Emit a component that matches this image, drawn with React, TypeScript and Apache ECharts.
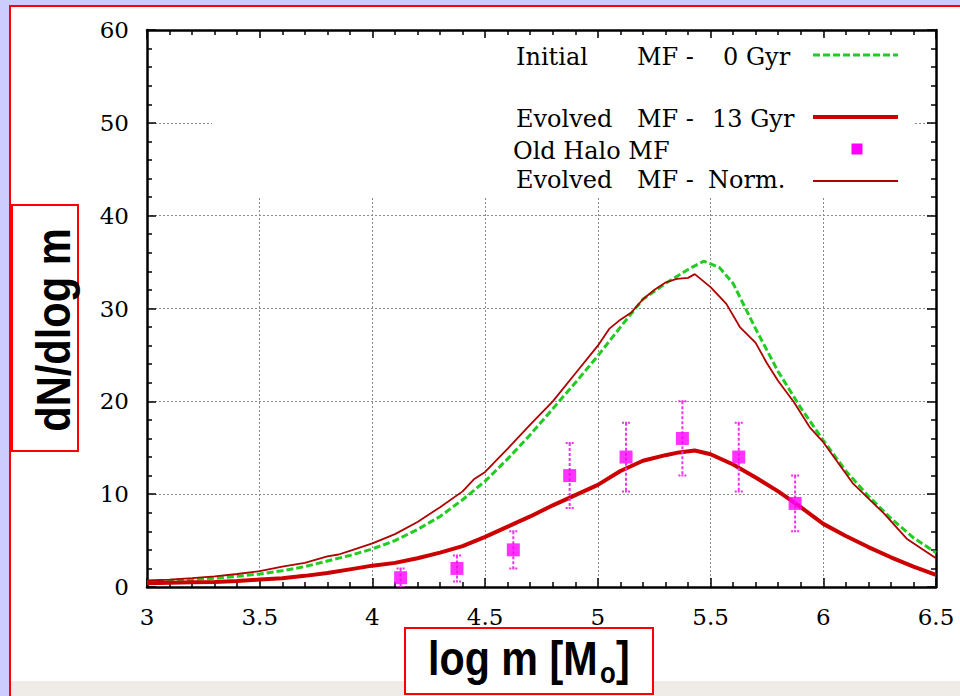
import React, { useEffect, useRef } from "react";
import * as echarts from "echarts";

// ---- data ----
const initX = [3.0, 3.1, 3.2, 3.3, 3.4, 3.5, 3.6, 3.7, 3.8, 3.9, 4.0, 4.1, 4.2, 4.3, 4.4, 4.5, 4.6, 4.7, 4.8, 4.9, 5.0, 5.1, 5.2, 5.3, 5.4, 5.47, 5.54, 5.6, 5.7, 5.8, 5.9, 6.0, 6.1, 6.2, 6.3, 6.4, 6.5];
const initY = [0.6, 0.7, 0.8, 0.95, 1.15, 1.4, 1.75, 2.2, 2.8, 3.4, 4.1, 5.0, 6.2, 7.6, 9.4, 11.4, 13.8, 16.4, 19.2, 22.0, 24.9, 28.0, 31.0, 32.7, 34.2, 35.1, 34.4, 32.7, 27.8, 23.2, 19.3, 15.8, 12.5, 9.8, 7.4, 5.3, 3.7];

const normX = [3.0, 3.1, 3.2, 3.3, 3.4, 3.5, 3.6, 3.7, 3.8, 3.85, 3.9, 4.0, 4.1, 4.2, 4.3, 4.4, 4.45, 4.5, 4.6, 4.7, 4.8, 4.9, 5.0, 5.05, 5.1, 5.15, 5.2, 5.25, 5.3, 5.35, 5.4, 5.43, 5.5, 5.57, 5.63, 5.7, 5.75, 5.8, 5.87, 5.94, 6.0, 6.13, 6.27, 6.37, 6.5];
const normY = [0.7, 0.8, 0.95, 1.15, 1.4, 1.7, 2.2, 2.6, 3.3, 3.5, 3.9, 4.7, 5.7, 7.0, 8.6, 10.3, 11.6, 12.4, 14.9, 17.5, 20.0, 23.0, 26.0, 27.8, 28.8, 29.6, 31.0, 32.0, 32.8, 33.2, 33.3, 33.7, 32.3, 30.5, 28.0, 26.3, 24.1, 22.2, 19.9, 17.2, 15.6, 11.2, 7.9, 5.2, 3.1];

const evoX = [3.0, 3.1, 3.2, 3.3, 3.4, 3.5, 3.6, 3.7, 3.8, 3.9, 4.0, 4.1, 4.2, 4.3, 4.4, 4.5, 4.6, 4.7, 4.8, 4.9, 5.0, 5.1, 5.2, 5.3, 5.36, 5.43, 5.5, 5.6, 5.7, 5.8, 5.9, 6.0, 6.1, 6.2, 6.3, 6.4, 6.5];
const evoY = [0.4, 0.45, 0.5, 0.55, 0.65, 0.8, 0.95, 1.2, 1.5, 1.9, 2.3, 2.6, 3.1, 3.7, 4.4, 5.4, 6.5, 7.6, 8.8, 9.9, 11.0, 12.5, 13.6, 14.2, 14.5, 14.7, 14.3, 13.2, 11.8, 10.3, 8.6, 6.8, 5.5, 4.3, 3.2, 2.2, 1.3];

const haloX = [4.125, 4.375, 4.625, 4.875, 5.125, 5.375, 5.625, 5.875];
const haloY = [1, 2, 4, 12, 14, 16, 14, 9];
const haloErr = [1, 1.4, 2, 3.5, 3.7, 4, 3.7, 3];

const xTickLabels = ["3", "3.5", "4", "4.5", "5", "5.5", "6", "6.5"];
const yTickLabels = ["0", "10", "20", "30", "40", "50", "60"];

const pairs = (xs: number[], ys: number[]) => xs.map((x, i) => [x, ys[i]]);

const SERIF = "'DejaVu Serif', serif";
const SANS = "'Liberation Sans', Arial, sans-serif";

function txt(text: string, x: number, y: number, extra: any = {}, styleExtra: any = {}) {
  return {
    type: "text",
    x,
    y,
    z: 20,
    silent: true,
    ...extra,
    style: {
      text,
      fill: "#000",
      fontFamily: SERIF,
      fontSize: 24,
      align: "left",
      textAlign: "left",
      verticalAlign: "middle",
      textVerticalAlign: "middle",
      ...styleExtra,
    },
  };
}

export default function App() {
  const ref = useRef<HTMLDivElement>(null);

  useEffect(() => {
    const chart = echarts.init(ref.current!, null, { renderer: "svg" });

    const tickCommon = {
      axisLine: { show: true, onZero: false, lineStyle: { color: "#000", width: 2.5 } },
      axisTick: { show: true, inside: true, length: 9, lineStyle: { color: "#000", width: 1.5 } },
      minorTick: { show: true, splitNumber: 5, length: 5, lineStyle: { color: "#000", width: 1.5 } },
    };
    const gridLine = { show: true, lineStyle: { color: "#8a8a8a", width: 1, type: [2, 2] } };

    const xLabel = {
      show: true,
      color: "#000",
      fontFamily: SERIF,
      fontSize: 23,
      margin: 18,
      formatter: (v: number) => xTickLabels[Math.round((v - 3) / 0.5)] ?? String(v),
    };
    const yLabel = {
      show: true,
      color: "#000",
      fontFamily: SERIF,
      fontSize: 23,
      margin: 18,
      formatter: (v: number) => yTickLabels[Math.round(v / 10)] ?? String(v),
    };

    const option: any = {
      animation: false,
      backgroundColor: "#ccccff",
      textStyle: { fontFamily: SERIF, color: "#000" },
      grid: { left: 147, top: 30, right: 24, bottom: 109, containLabel: false },
      xAxis: [
        {
          type: "value",
          min: 3,
          max: 6.5,
          interval: 0.5,
          position: "bottom",
          ...tickCommon,
          splitLine: gridLine,
          axisLabel: xLabel,
        },
        {
          type: "value",
          min: 3,
          max: 6.5,
          interval: 0.5,
          position: "top",
          ...tickCommon,
          splitLine: { show: false },
          axisLabel: { show: false },
        },
      ],
      yAxis: [
        {
          type: "value",
          min: 0,
          max: 60,
          interval: 10,
          position: "left",
          ...tickCommon,
          splitLine: gridLine,
          axisLabel: yLabel,
        },
        {
          type: "value",
          min: 0,
          max: 60,
          interval: 10,
          position: "right",
          ...tickCommon,
          splitLine: { show: false },
          axisLabel: { show: false },
        },
      ],
      series: [
        {
          name: "Initial MF - 0 Gyr",
          type: "line",
          data: pairs(initX, initY),
          symbol: "none",
          z: 3,
          lineStyle: { color: "#22cc22", width: 3, type: [7, 3] },
        },
        {
          name: "Evolved MF - Norm.",
          type: "line",
          data: pairs(normX, normY),
          symbol: "none",
          z: 4,
          lineStyle: { color: "#b00000", width: 1.8 },
        },
        {
          name: "Evolved MF - 13 Gyr",
          type: "line",
          data: pairs(evoX, evoY),
          symbol: "none",
          z: 4,
          lineStyle: { color: "#cc0000", width: 4 },
        },
        {
          name: "Old Halo MF errors",
          type: "custom",
          z: 5,
          clip: true,
          data: haloX.map((x, i) => [x, haloY[i], haloErr[i]]),
          encode: { x: 0, y: 1 },
          renderItem: (params: any, api: any) => {
            const x = api.value(0);
            const y = api.value(1);
            const e = api.value(2);
            const top = api.coord([x, y + e]);
            const bot = api.coord([x, Math.max(0, y - e)]);
            const cap = 4;
            const c = "#ee33ee";
            return {
              type: "group",
              children: [
                {
                  type: "line",
                  shape: { x1: top[0], y1: top[1], x2: bot[0], y2: bot[1] },
                  style: { stroke: c, lineWidth: 2, lineDash: [3, 2] },
                },
                {
                  type: "line",
                  shape: { x1: top[0] - cap, y1: top[1], x2: top[0] + cap, y2: top[1] },
                  style: { stroke: c, lineWidth: 2, lineDash: [2, 1] },
                },
                {
                  type: "line",
                  shape: { x1: bot[0] - cap, y1: bot[1], x2: bot[0] + cap, y2: bot[1] },
                  style: { stroke: c, lineWidth: 2, lineDash: [2, 1] },
                },
              ],
            };
          },
        },
        {
          name: "Old Halo MF",
          type: "scatter",
          data: pairs(haloX, haloY),
          symbol: "rect",
          symbolSize: 13,
          z: 6,
          itemStyle: { color: "#ff00ff" },
        },
      ],
      graphic: [
        // page panels
        { type: "rect", z: -10, silent: true, shape: { x: 9, y: 5, width: 960, height: 700 }, style: { fill: "#ff0000" } },
        { type: "rect", z: -9, silent: true, shape: { x: 11, y: 7, width: 960, height: 674 }, style: { fill: "#ffffff" } },
        { type: "rect", z: -9, silent: true, shape: { x: 11, y: 681, width: 960, height: 20 }, style: { fill: "#efebe7" } },
        // legend background
        { type: "rect", z: 1, silent: true, shape: { x: 212, y: 38, width: 703, height: 159 }, style: { fill: "#ffffff" } },
        // legend texts
        txt("Initial", 516, 57),
        txt("MF -", 637, 57),
        txt("0 Gyr", 723, 57),
        txt("Evolved", 516, 119),
        txt("MF -", 637, 119),
        txt("13 Gyr", 712, 119),
        txt("Old Halo MF", 513, 151),
        txt("Evolved", 516, 180),
        txt("MF -", 637, 180),
        txt("Norm.", 708, 180),
        // legend samples
        { type: "line", z: 20, silent: true, shape: { x1: 813, y1: 55, x2: 898, y2: 55 }, style: { stroke: "#22cc22", lineWidth: 3, lineDash: [7, 3] } },
        { type: "line", z: 20, silent: true, shape: { x1: 813, y1: 117, x2: 898, y2: 117 }, style: { stroke: "#cc0000", lineWidth: 4 } },
        { type: "rect", z: 20, silent: true, shape: { x: 851.5, y: 143.5, width: 11, height: 11 }, style: { fill: "#ff00ff" } },
        { type: "line", z: 20, silent: true, shape: { x1: 813, y1: 181, x2: 898, y2: 181 }, style: { stroke: "#b00000", lineWidth: 1.8 } },
        // y axis title box
        { type: "rect", z: 15, silent: true, shape: { x: 12, y: 205, width: 66, height: 246 }, style: { fill: "#ffffff", stroke: "#ff0000", lineWidth: 2 } },
        txt("dN/dlog m", 53, 330, { rotation: Math.PI / 2, scaleX: 0.85 }, {
          fontFamily: SANS, fontWeight: "bold", fontSize: 49, align: "center", textAlign: "center",
        }),
        // x axis title box
        { type: "rect", z: 15, silent: true, shape: { x: 405, y: 628, width: 248, height: 66 }, style: { fill: "#ffffff", stroke: "#ff0000", lineWidth: 2 } },
        txt("log m [M", 428, 658, { scaleX: 0.86 }, { fontFamily: SANS, fontWeight: "bold", fontSize: 48 }),
        txt("o", 600, 673, { scaleX: 0.86 }, { fontFamily: SANS, fontWeight: "bold", fontSize: 30 }),
        txt("]", 616, 658, { scaleX: 0.86 }, { fontFamily: SANS, fontWeight: "bold", fontSize: 48 }),
      ],
    };

    chart.setOption(option);
    return () => chart.dispose();
  }, []);

  return <div ref={ref} style={{ position: "fixed", left: 0, top: 0, width: 960, height: 696 }} />;
}
